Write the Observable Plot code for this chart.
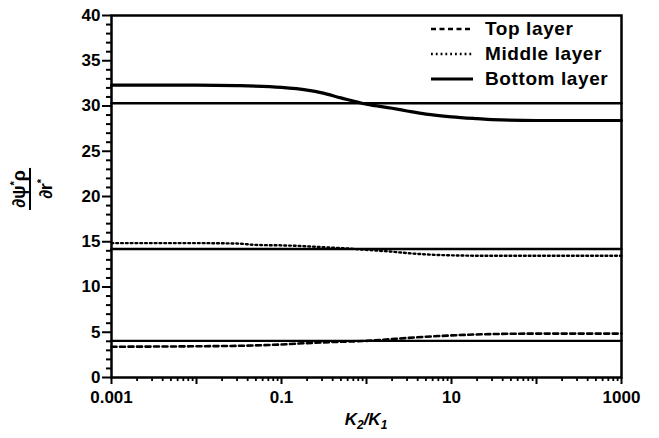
<!DOCTYPE html>
<html>
<head>
<meta charset="utf-8">
<script src="https://cdn.jsdelivr.net/npm/d3@7"></script>
<script src="https://cdn.jsdelivr.net/npm/@observablehq/plot@0.6"></script>
<style>
  body { margin: 0; background: #fff; }
  #wrap { position: relative; width: 659px; height: 438px; font-family: "Liberation Sans", Arial, sans-serif; font-weight: bold; }
  #ylab { position: absolute; left: 30px; top: 189px; transform: translate(-50%, -50%) rotate(-90deg); text-align: center; font-size: 18px; line-height: 18px; }
  #ylab .num { border-bottom: 2px solid #000; padding: 0 2px 1px; }
  #ylab .den { padding-top: 1px; }
  #xlab { position: absolute; left: 366px; top: 410px; transform: translateX(-50%); font-size: 17px; font-style: italic; }
  #legend { position: absolute; left: 430px; top: 16px; font-size: 19px; letter-spacing: 0.6px; line-height: 25px; }
  #legend div { display: flex; align-items: center; height: 25px; }
  #legend svg { margin-right: 11px; }
</style>
</head>
<body>
<div id="wrap">
  <div id="chart"></div>
  <div id="ylab"><div class="num">∂ψ<sup style="font-size:11px">*</sup>ρ</div><div class="den">∂r<sup style="font-size:11px">*</sup></div></div>
  <div id="xlab">K<sub style="font-size:12px">2</sub>/K<sub style="font-size:12px">1</sub></div>
  <div id="legend"></div>
</div>
<script>
// K2/K1 sample points and values for each layer
const topX    = [0.001, 0.01, 0.03, 0.1, 0.2, 0.5, 1, 2, 5, 10, 30, 100, 1000];
const topY    = [3.4, 3.45, 3.5, 3.65, 3.8, 3.95, 4.05, 4.25, 4.5, 4.65, 4.8, 4.85, 4.85];
const midX    = [0.001, 0.01, 0.03, 0.05, 0.1, 0.2, 0.3, 0.5, 1, 2, 3, 5, 10, 30, 100, 1000];
const midY    = [14.85, 14.85, 14.8, 14.65, 14.6, 14.5, 14.4, 14.3, 14.1, 13.9, 13.75, 13.6, 13.5, 13.45, 13.45, 13.45];
const botX    = [0.001, 0.003, 0.01, 0.03, 0.1, 0.2, 0.3, 0.5, 1, 2, 3, 5, 10, 20, 30, 100, 300, 1000];
const botY    = [32.3, 32.3, 32.3, 32.25, 32.05, 31.75, 31.45, 30.9, 30.2, 29.75, 29.45, 29.1, 28.8, 28.6, 28.5, 28.4, 28.4, 28.4];
// constant reference levels (solid horizontal lines)
const refLevels = [30.3, 14.2, 4.05];
const xRange = [0.001, 1000];
// ticks
const yMajor = [0, 5, 10, 15, 20, 25, 30, 35, 40];
const yMinor = [1,2,3,4,6,7,8,9,11,12,13,14,16,17,18,19,21,22,23,24,26,27,28,29,31,32,33,34,36,37,38,39];
const xMajor = [0.001, 0.01, 0.1, 1, 10, 100, 1000];
const xLabeled = [0.001, 0.1, 10, 1000];
const xMinor = [2,3,4,5,6,7,8,9].flatMap(k => [0.001, 0.01, 0.1, 1, 10, 100].map(d => +(d * k).toPrecision(3)));

const series = [
  {name: "Top layer", xs: topX, ys: topY, dash: "5,3.5", width: 2.6},
  {name: "Middle layer", xs: midX, ys: midY, dash: "1.8,3", width: 2.4},
  {name: "Bottom layer", xs: botX, ys: botY, dash: null, width: 3.2}
];
const lineData = series.flatMap(s => s.xs.map((x, i) => ({x, y: s.ys[i], s: s.name})));
const refData = refLevels.flatMap((v, j) => xRange.map(x => ({x, y: v, g: j})));

const marks = [
  Plot.line(refData, {x: "x", y: "y", z: "g", stroke: "#000", strokeWidth: 2.4}),
  ...series.map(s => Plot.line(lineData.filter(d => d.s === s.name), {
    x: "x", y: "y", stroke: "#000", strokeWidth: s.width,
    strokeDasharray: s.dash || undefined, curve: "monotone-x"
  })),
  Plot.axisY(yMinor, {tickSize: 5, stroke: "#000", strokeWidth: 2, tickFormat: () => "", label: null}),
  Plot.axisY(yMajor, {tickSize: 9, tickPadding: 2, stroke: "#000", strokeWidth: 2, fontSize: 17, fontWeight: "bold", label: null}),
  Plot.axisX(xMinor, {tickSize: 4, stroke: "#000", strokeWidth: 1.8, tickFormat: () => "", label: null}),
  Plot.axisX(xMajor, {tickSize: 7, tickPadding: 6, stroke: "#000", strokeWidth: 2, fontSize: 17, fontWeight: "bold", label: null,
    tickFormat: d => xLabeled.includes(d) ? String(d) : ""}),
  Plot.frame({stroke: "#000", strokeWidth: 2.5})
];

const chart = Plot.plot({
  width: 659, height: 438,
  marginLeft: 111, marginRight: 38, marginTop: 15, marginBottom: 61,
  style: {fontFamily: "'Liberation Sans', Arial, sans-serif", color: "#000", background: "#fff"},
  x: {type: "log", domain: xRange, label: null},
  y: {domain: [0, 40], label: null},
  marks
});
document.getElementById("chart").appendChild(chart);

// legend
const leg = document.getElementById("legend");
series.forEach(s => {
  const row = document.createElement("div");
  row.innerHTML = `<svg width="44" height="8"><line x1="1" x2="43" y1="4" y2="4" stroke="#000" stroke-width="${s.width}" ${s.dash ? `stroke-dasharray="${s.dash}"` : ""}/></svg><span>${s.name}</span>`;
  leg.appendChild(row);
});
</script>
</body>
</html>
